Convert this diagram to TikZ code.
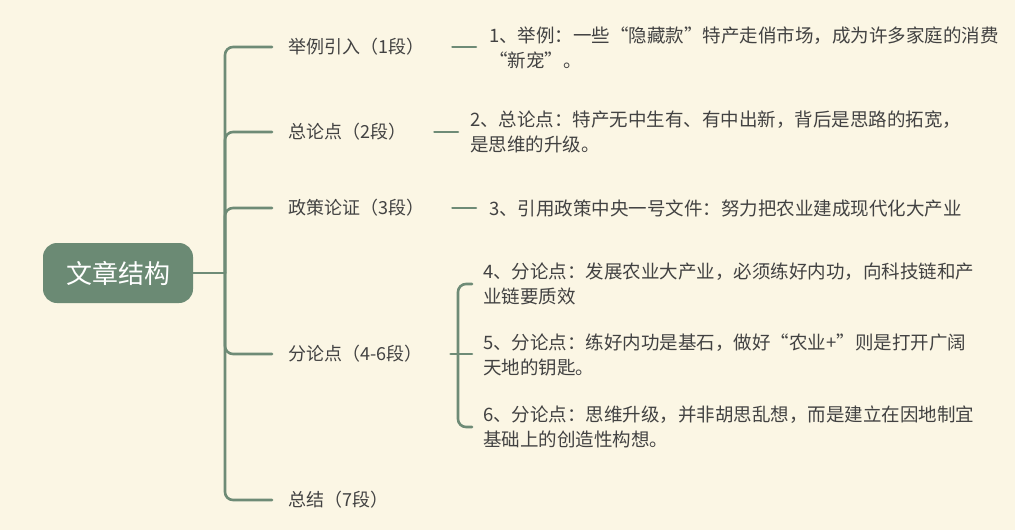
\documentclass[tikz,border=0pt]{standalone}
\usepackage{fontspec}
\setmainfont{Noto Sans CJK SC}
\definecolor{bgc}{HTML}{FBF6E4}
\definecolor{linec}{HTML}{6E8B76}
\definecolor{rootc}{HTML}{6B8A74}
\definecolor{txtc}{HTML}{424242}
\tikzset{
  conn/.style={draw=linec, line width=2.6pt, line cap=round},
  rootbox/.style={fill=rootc, rounded corners=14pt, minimum width=150pt, minimum height=60pt, text=white, font=\fontsize{26}{30}\selectfont, inner sep=0pt},
  lvlone/.style={anchor=west, inner sep=0pt, text=txtc, font=\fontsize{18}{24}\selectfont},
  lvltwo/.style={anchor=west, inner sep=0pt, text=txtc, align=left, font=\fontsize{18.5}{25.5}\selectfont},
}
\begin{document}
\begin{tikzpicture}[x=1pt,y=-1pt]
\fill[bgc] (0,0) rectangle (1015,530);
\useasboundingbox (0,0) rectangle (1015,530);

\node[rootbox] (root) at (118,273) {文章结构};
\coordinate (trunk) at (225,273);

\node[lvlone] (b1) at (288,47) {举例引入（1段）};
\node[lvlone] (b2) at (288,132) {总论点（2段）};
\node[lvlone] (b3) at (288,208) {政策论证（3段）};
\node[lvlone] (b4) at (288,354) {分论点（4-6段）};
\node[lvlone] (b5) at (288,500) {总结（7段）};

\node[lvltwo] (l1) at (489,48) {1、举例：一些“隐藏款”特产走俏市场，成为许多家庭的消费\\“新宠”。};
\node[lvltwo] (l2) at (470,132) {2、总论点：特产无中生有、有中出新，背后是思路的拓宽，\\是思维的升级。};
\node[lvltwo] (l3) at (489,208) {3、引用政策中央一号文件：努力把农业建成现代化大产业};
\node[lvltwo] (l4) at (483,284) {4、分论点：发展农业大产业，必须练好内功，向科技链和产\\业链要质效};
\node[lvltwo] (l5) at (483,355) {5、分论点：练好内功是基石，做好“农业+”则是打开广阔\\天地的钥匙。};
\node[lvltwo] (l6) at (483,427) {6、分论点：思维升级，并非胡思乱想，而是建立在因地制宜\\基础上的创造性构想。};

\draw[conn] (root.east) -- (trunk);
\foreach \b in {b1,b2,b3,b4,b5}{
  \draw[conn, rounded corners=8pt] (trunk) |- ([xshift=-16pt]\b.west);
}
\draw[conn] ([xshift=28pt]b1.east) -- ([xshift=-13pt]l1.west |- b1.east);
\draw[conn] ([xshift=28pt]b2.east) -- ([xshift=-12pt]l2.west |- b2.east);
\draw[conn] ([xshift=28pt]b3.east) -- ([xshift=-13pt]l3.west |- b3.east);
\draw[conn] ([xshift=28pt]b4.east) -- ([xshift=-11pt]l5.west |- b4.east);
\coordinate (bk) at ([xshift=-25pt]l5.west |- b4.east);
\draw[conn, rounded corners=8pt] (bk) |- ([xshift=-11pt]l4.west);
\draw[conn, rounded corners=8pt] (bk) |- ([xshift=-11pt]l6.west);
\end{tikzpicture}
\end{document}
